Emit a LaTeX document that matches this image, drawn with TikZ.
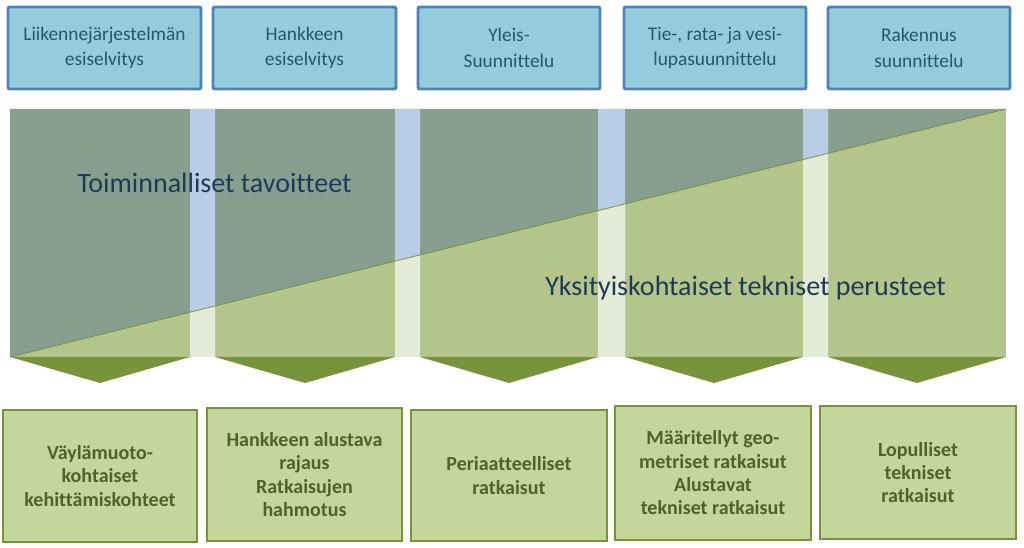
\documentclass[tikz,border=0pt]{standalone}
\usepackage{fontspec}
\setmainfont{Carlito}[Ligatures=NoCommon]
\usetikzlibrary{positioning}
\definecolor{phasefill}{HTML}{93CDDD}
\definecolor{phaseline}{HTML}{4F81BD}
\definecolor{phasetext}{HTML}{215968}
\definecolor{resfill}{HTML}{C3D69B}
\definecolor{resline}{HTML}{77933C}
\definecolor{restext}{HTML}{4F6228}
\definecolor{upperfill}{HTML}{879F8F}
\definecolor{lowerfill}{HTML}{B3C58A}
\definecolor{gapup}{HTML}{B9CDE5}
\definecolor{gaplow}{HTML}{E4EBD6}
\definecolor{bigtext}{HTML}{1F3A56}

\begin{document}
\begin{tikzpicture}[x=0.75pt, y=-0.75pt,
phase box/.style={rectangle,rounded corners=1.5pt,draw=phaseline,line width=2.2pt,fill=phasefill,text=phasetext,align=center,minimum height=61.5pt,inner sep=0pt,font=\fontsize{14.5}{19}\selectfont},
result box/.style={rectangle,draw=resline,line width=2.2pt,fill=resfill,text=restext,align=center,inner sep=0pt,font=\bfseries\fontsize{15}{17.5}\selectfont},
big label/.style={anchor=west,text=bigtext,inner sep=0pt,font=\fontsize{21}{25}\selectfont}]
\useasboundingbox (0,0) rectangle (1024,548);
% band split by the diagonal
\fill[lowerfill] (10,109) rectangle (1006,357);
\fill[upperfill] (10,109) -- (1006,109) -- (10,357) -- cycle;
\begin{scope}
\clip (190,109) rectangle (215,357) (395,109) rectangle (420,357)
      (598,109) rectangle (625,357) (803,109) rectangle (828,357);
\fill[gapup] (10,109) rectangle (1006,357);
\fill[gaplow] (1006,109) -- (1006,357) -- (10,357) -- cycle;
\end{scope}
\draw[resline, line width=0.6pt] (10,357) -- (1006,109);
% chevrons
\foreach \a/\b in {10/190, 215/395, 420/598, 625/803, 828/1006}
  \fill[resline] (\a,357) -- (\b,357) -- ({(\a+\b)/2},383) -- cycle;
\node[big label] (TT) at (77,183) {Toiminnalliset tavoitteet};
\node[big label] (YT) at (545,288) {Yksityiskohtaiset tekniset perusteet};
\begin{scope}
\node[phase box, minimum width=144.75pt] (LJ) at (104.5,48) {Liikennejärjestelmän\\esiselvitys};
\node[phase box, minimum width=137.25pt] (HE) at (304.5,48) {Hankkeen\\esiselvitys};
\node[phase box, minimum width=136.5pt] (YS) at (509,48) {Yleis-\\Suunnittelu};
\node[phase box, minimum width=136.5pt] (TR) at (715,48) {Tie-, rata- ja vesi-\\lupasuunnittelu};
\node[phase box, minimum width=136.5pt] (RS) at (919,48) {Rakennus\\suunnittelu};
\end{scope}
\begin{scope}
\node[result box, minimum width=145.5pt, minimum height=99pt] (VK) at (100,476) {Väylämuoto-\\kohtaiset\\kehittämiskohteet};
\node[result box, minimum width=146.25pt, minimum height=99.75pt] (HA) at (304.5,474.5) {Hankkeen alustava\\rajaus\\Ratkaisujen\\hahmotus};
\node[result box, minimum width=147pt, minimum height=98.25pt] (PR) at (509,475.5) {Periaatteelliset\\ratkaisut};
\node[result box, minimum width=147pt, minimum height=100.5pt] (MG) at (713,473) {Määritellyt geo-\\metriset ratkaisut\\Alustavat\\tekniset ratkaisut};
\node[result box, minimum width=147pt, minimum height=99.75pt] (LT) at (918,472.5) {Lopulliset\\tekniset\\ratkaisut};
\end{scope}
\end{tikzpicture}
\end{document}
